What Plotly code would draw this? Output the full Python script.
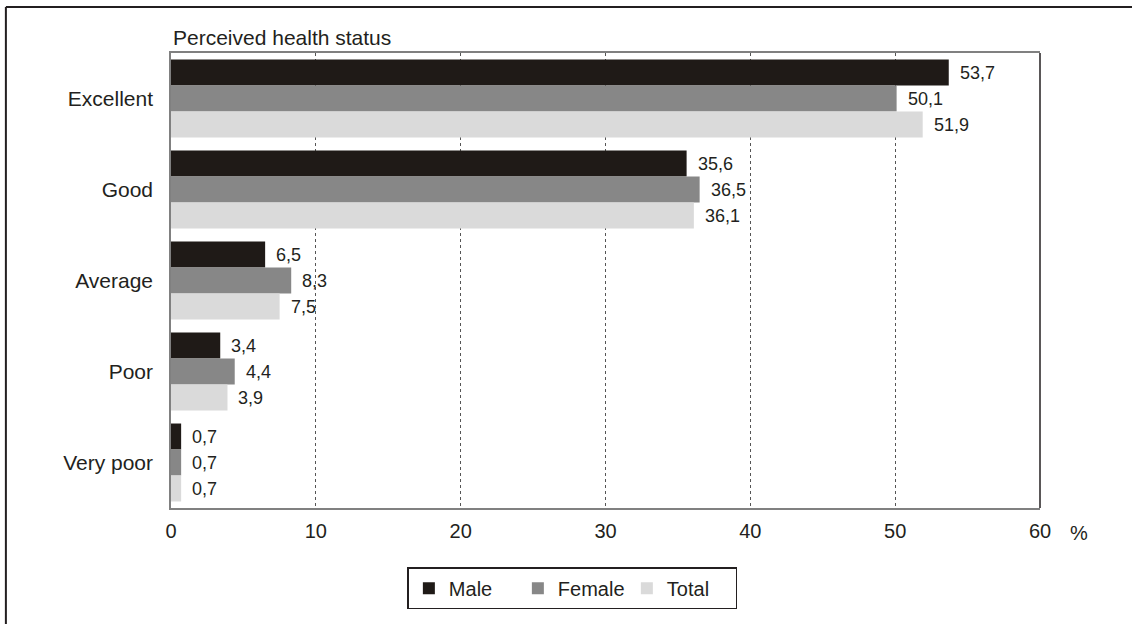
import plotly.graph_objects as go

# Perceived health status by sex (%)
categories = ["Excellent", "Good", "Average", "Poor", "Very poor"]
male = [53.7, 35.6, 6.5, 3.4, 0.7]
female = [50.1, 36.5, 8.3, 4.4, 0.7]
total = [51.9, 36.1, 7.5, 3.9, 0.7]
x_ticks = [0, 10, 20, 30, 40, 50, 60]

series = [
    ("Male", male, "#1f1a17", 26),
    ("Female", female, "#878787", 0),
    ("Total", total, "#dadada", -26),
]

FONT = "Liberation Sans, Arial, sans-serif"
TXT = "#231f20"

fig = go.Figure()
annotations = []
for name, vals, color, dy in series:
    fig.add_trace(go.Bar(
        name=name, y=categories, x=vals, orientation="h",
        marker=dict(color=color, line=dict(width=0)),
    ))
    for cat, v in zip(categories, vals):
        annotations.append(dict(
            x=v, y=cat, xref="x", yref="y", text=f"{v:.1f}".replace(".", ","),
            showarrow=False, xanchor="left", yanchor="middle",
            xshift=9, yshift=dy, font=dict(family=FONT, size=18, color=TXT),
        ))

annotations.append(dict(
    x=1.0, y=0, xref="paper", yref="paper", text="%", showarrow=False,
    xanchor="left", yanchor="top", xshift=28, yshift=-12,
    font=dict(family=FONT, size=20, color=TXT),
))
annotations.append(dict(
    x=0, y=1, xref="paper", yref="paper", text="Perceived health status",
    showarrow=False, xanchor="left", yanchor="bottom", yshift=2,
    font=dict(family=FONT, size=21, color=TXT),
))

shapes = [
    # outer frame (left and top edges)
    dict(type="line", xref="paper", yref="paper", x0=-0.190, x1=-0.190,
         y0=1.101, y1=-0.26, line=dict(color="#231f20", width=2)),
    dict(type="line", xref="paper", yref="paper", x0=-0.190, x1=1.2,
         y0=1.101, y1=1.101, line=dict(color="#231f20", width=2)),
    # right edge of plot area
    dict(type="line", xref="paper", yref="paper", x0=1, x1=1, y0=0, y1=1,
         line=dict(color="#231f20", width=1.5)),
]

fig.update_layout(
    width=1132, height=624,
    margin=dict(l=171, r=92, t=53, b=116),
    paper_bgcolor="white", plot_bgcolor="white",
    barmode="group", bargap=0.143, bargroupgap=0,
    separators=", ",
    font=dict(family=FONT, size=20, color=TXT),
    showlegend=True,
    legend=dict(
        orientation="h", x=0.272, xanchor="left", y=-0.13, yanchor="top",
        bordercolor="#231f20", borderwidth=1.5, bgcolor="white",
        font=dict(family=FONT, size=20, color=TXT),
        traceorder="normal", itemclick=False, itemwidth=30,
        entrywidth=64, entrywidthmode="pixels",
    ),
    xaxis=dict(
        range=[0, 60], tickvals=x_ticks, showgrid=True,
        gridcolor="#555555", griddash="dot", gridwidth=1,
        showline=True, linecolor="#808080", linewidth=1.5, mirror=True,
        ticks="", zeroline=False, tickfont=dict(size=20),
        ticklabelstandoff=4,
    ),
    yaxis=dict(
        autorange="reversed", showgrid=False, showline=True,
        linecolor="#808080", linewidth=1.5, ticks="", ticklabelstandoff=12,
        tickfont=dict(size=21),
    ),
    annotations=annotations,
    shapes=shapes,
)

fig.write_html("out.html")
